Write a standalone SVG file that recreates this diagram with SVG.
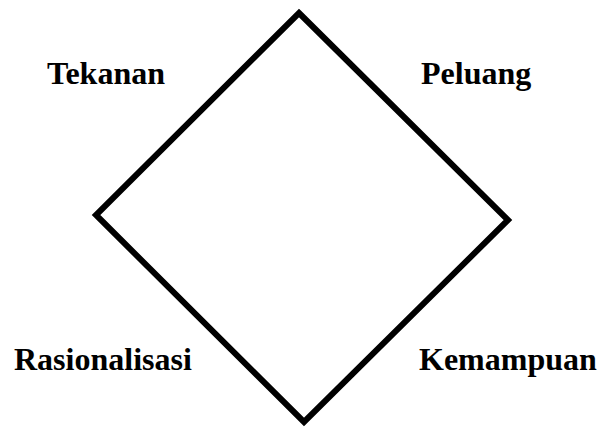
<svg xmlns="http://www.w3.org/2000/svg" width="599" height="428" viewBox="0 0 599 428">
<style>
.lbl{font-family:"Liberation Serif","Times New Roman",serif;font-weight:bold;font-size:32px;fill:#000}
.edge{fill:none;stroke:#000;stroke-width:6;stroke-linejoin:miter;stroke-miterlimit:10}
</style>
<rect width="599" height="428" fill="#fff"/>
<g id="connectors">
<path class="edge" d="M299,13 L508,220 L304,422 L96,215 Z"/>
</g>
<g id="tekanan"><text class="lbl" x="47" y="84">Tekanan</text></g>
<g id="peluang"><text class="lbl" x="421" y="84">Peluang</text></g>
<g id="rasionalisasi"><text class="lbl" x="14" y="370">Rasionalisasi</text></g>
<g id="kemampuan"><text class="lbl" x="419" y="370">Kemampuan</text></g>
</svg>
